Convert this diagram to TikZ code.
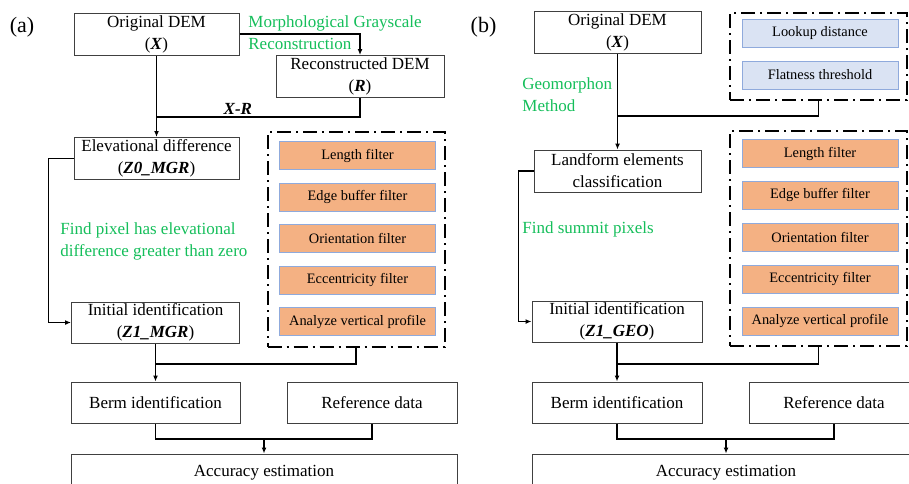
\documentclass[tikz,border=0pt]{standalone}
\usepackage{fontspec}
\setmainfont{Liberation Serif}
\usetikzlibrary{arrows.meta}
\definecolor{orangefill}{RGB}{244,177,131}
\definecolor{blueedge}{RGB}{143,170,220}
\definecolor{bluefill}{RGB}{218,227,243}
\definecolor{notegreen}{RGB}{20,190,90}
\newcommand{\bfit}[1]{\textbf{\textit{#1}}}

\begin{document}
\begin{tikzpicture}
		[x=0.5pt,y=-0.5pt,
		every node/.style={font=\fontsize{8.5}{11}\selectfont},
		blk/.style={draw=black!75,line width=0.5pt,minimum height=21pt,inner sep=0pt,align=center},
		filt/.style={draw=blueedge,line width=0.5pt,fill=orangefill,minimum width=78pt,minimum height=14pt,inner sep=0pt,font=\fontsize{7.2}{9}\selectfont},
		param/.style={filt,fill=bluefill},
		dbox/.style={draw,line width=1pt,dash pattern=on 7pt off 2.5pt on 1pt off 2.5pt,minimum width=88.5pt,inner sep=0pt},
		note/.style={text=notegreen,align=left,anchor=west,inner sep=0pt},
		conn/.style={line width=0.75pt},
		arr/.style={conn,-{Latex[length=3pt,width=2.5pt]}}]
		\useasboundingbox (0,0) rectangle (909,483);
		\clip (0,0) rectangle (909,483);
		
		% (a)
		\node[font=\fontsize{11}{13}\selectfont] (labA) at (22,27) {(a)};
		\node[blk,minimum width=82.5pt] (oriA) at (156.5,34) {Original DEM\\(\bfit{X})};
		\node[blk,minimum width=84pt] (recA) at (360,76.5) {Reconstructed DEM\\(\bfit{R})};
		\node[blk,minimum width=82.5pt] (elevA) at (156.5,158.5) {Elevational difference\\(\bfit{Z0\_MGR})};
		\node[blk,minimum width=84pt,minimum height=20.5pt] (initA) at (155.5,322.5) {Initial identification\\(\bfit{Z1\_MGR})};
		\node[blk,minimum width=84.5pt,minimum height=20.5pt] (bermA) at (155.5,402.5) {Berm identification};
		\node[blk,minimum width=85pt,minimum height=20.5pt] (refA) at (372,402.5) {Reference data};
		\node[blk,minimum width=193pt,minimum height=19pt] (accA) at (264,473) {Accuracy estimation};
		
		\node[note] (mgrA) at (248,32.5) {Morphological Grayscale\\Reconstruction};
		\node[note] (findA) at (60,241) {Find pixel has elevational\\difference greater than zero};
		
		\node[dbox,minimum height=107.5pt] (fA) at (356,239.5) {};
		\foreach \t [count=\i from 0] in {Length filter,Edge buffer filter,Orientation filter,Eccentricity filter,Analyze vertical profile}
			\node[filt] (fltA\i) at (357.5,155.5+41.6*\i) {\t};
		
		\coordinate (jA) at (156.5,117);
		\coordinate (kA) at (155.5,364);
		\coordinate (mA) at (264,439);
		\draw[arr] (oriA.east) -| (recA.north);
		\draw[arr] (oriA.south) -- (elevA.north);
		\draw[conn] (recA.south) |- (jA) node[pos=0.8,above,inner sep=1pt]{\bfit{X-R}};
		\draw[arr] (elevA.west) -- ++(-25,0) |- (initA.west);
		\draw[arr] (initA.south) -- (bermA.north);
		\draw[conn] (fA.south) |- (kA);
		\draw[conn] (bermA.south) |- (mA) -| (refA.south);
		\draw[arr] (mA) -- (accA.north);
		
		% (b)
		\node[font=\fontsize{11}{13}\selectfont] (labB) at (483.5,27) {(b)};
		\node[blk,minimum width=83.5pt] (oriB) at (617.5,32) {Original DEM\\(\bfit{X})};
		\node[blk,minimum width=83.5pt] (landB) at (617.5,171) {Landform elements\\classification};
		\node[blk,minimum width=85pt,minimum height=20.5pt] (initB) at (617,321.5) {Initial identification\\(\bfit{Z1\_GEO})};
		\node[blk,minimum width=85pt,minimum height=20.5pt] (bermB) at (617,402.5) {Berm identification};
		\node[blk,minimum width=85pt,minimum height=20.5pt] (refB) at (834,402.5) {Reference data};
		\node[blk,minimum width=194pt,minimum height=19pt] (accB) at (726,473) {Accuracy estimation};
		
		\node[note] (geoB) at (522,94.5) {Geomorphon\\Method};
		\node[note] (findB) at (522,229) {Find summit pixels};
		
		\node[dbox,minimum height=43.5pt] (tB) at (818.5,56.5) {};
		\node[param] (lookB) at (820,33.5) {Lookup distance};
		\node[param] (flatB) at (820,75) {Flatness threshold};
		
		\node[dbox,minimum height=107.5pt] (fB) at (818.5,238.5) {};
		\foreach \t [count=\i from 0] in {Length filter,Edge buffer filter,Orientation filter,Eccentricity filter,Analyze vertical profile}
			\node[filt] (fltB\i) at (820,153.5+41.9*\i) {\t};
		
		\coordinate (jB) at (617.5,116);
		\coordinate (kB) at (617,364);
		\coordinate (mB) at (726,439);
		\draw[arr] (oriB.south) -- (landB.north);
		\draw[conn] (tB.south) |- (jB);
		\draw[arr] (landB.west) -- ++(-15,0) |- (initB.west);
		\draw[arr] (initB.south) -- (bermB.north);
		\draw[conn] (fB.south) |- (kB);
		\draw[conn] (bermB.south) |- (mB) -| (refB.south);
		\draw[arr] (mB) -- (accB.north);
		
\end{tikzpicture}
\end{document}
